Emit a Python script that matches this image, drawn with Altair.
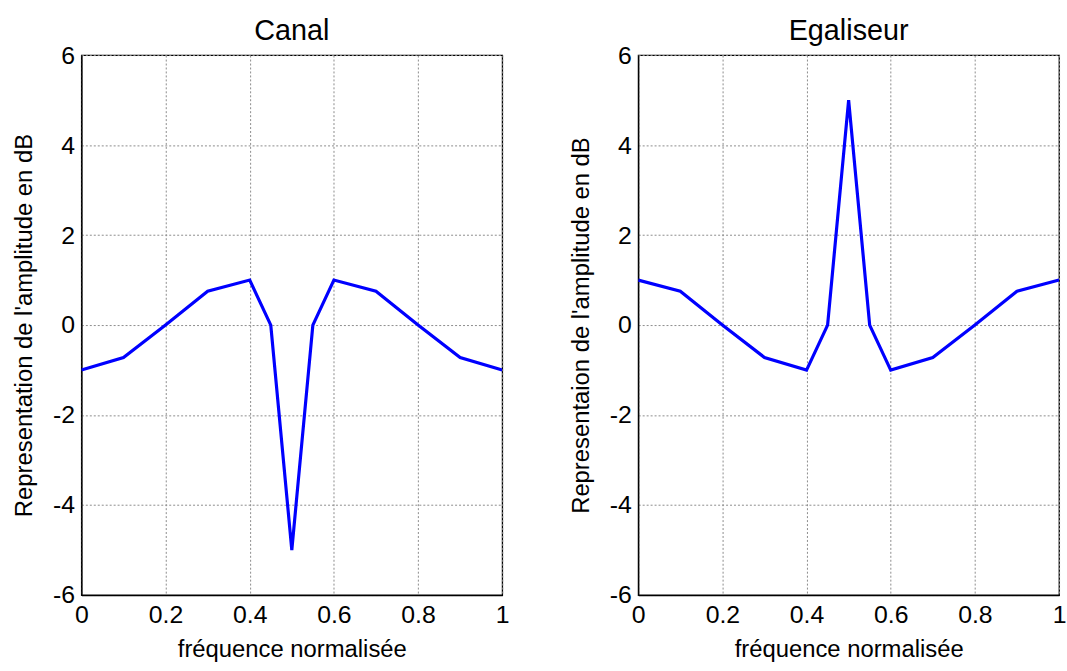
import altair as alt
import pandas as pd

freq = [0.0, 0.1, 0.2, 0.3, 0.4, 0.45, 0.5, 0.55, 0.6, 0.7, 0.8, 0.9, 1.0]
canal_db = [-1.0, -0.72, 0.0, 0.75, 1.0, 0.0, -5.0, 0.0, 1.0, 0.75, 0.0, -0.72, -1.0]
egal_db = [1.0, 0.75, 0.0, -0.72, -1.0, 0.0, 5.0, 0.0, -1.0, -0.72, 0.0, 0.75, 1.0]

x_ticks = [0, 0.2, 0.4, 0.6, 0.8, 1]
y_ticks = [-6, -4, -2, 0, 2, 4, 6]

FONT = "Liberation Sans"
LABEL_EXPR = "replace(datum.label, '\u2212', '-')"


def panel(vals, title, ytitle):
    df = pd.DataFrame({"f": freq, "db": vals})
    return (
        alt.Chart(df, title=alt.TitleParams(title, fontSize=29, font=FONT, fontWeight="normal", offset=-3, color="black"))
        .mark_line(color="#0000FF", strokeWidth=3.2, clip=True)
        .encode(
            x=alt.X("f:Q", scale=alt.Scale(domain=[0, 1], nice=False, zero=False),
                    axis=alt.Axis(values=x_ticks, title="fréquence normalisée", format="~g", labelExpr=LABEL_EXPR)),
            y=alt.Y("db:Q", scale=alt.Scale(domain=[-6, 6], nice=False),
                    axis=alt.Axis(values=y_ticks, title=ytitle, format="~g", labelExpr=LABEL_EXPR)),
        )
        .properties(width=424, height=544)
    )


left = panel(canal_db, "Canal", "Representation de l'amplitude en dB")
right = panel(egal_db, "Egaliseur", "Representaion de l'amplitude en dB")

chart = (
    alt.hconcat(left, right, spacing=59)
    .properties(padding={"left": 12, "top": 14, "right": 0, "bottom": 0}, background="white")
    .configure_view(stroke="black", strokeWidth=1.3)
    .configure_axis(
        labelFont=FONT, titleFont=FONT, labelFontSize=25, titleFontSize=24,
        labelColor="black", titleColor="black", titleFontWeight="normal",
        domainColor="black", domainWidth=1.3,
        grid=True, gridColor="#8c8c8c", gridDash=[2, 2], gridWidth=1,
        ticks=False,
    )
    .configure_axisX(titlePadding=10, labelPadding=8, labelFlush=False)
    .configure_axisY(titlePadding=16, labelPadding=7, labelFlush=False)
)

chart.save("out.html", embed_options={"renderer": "svg", "actions": False})
